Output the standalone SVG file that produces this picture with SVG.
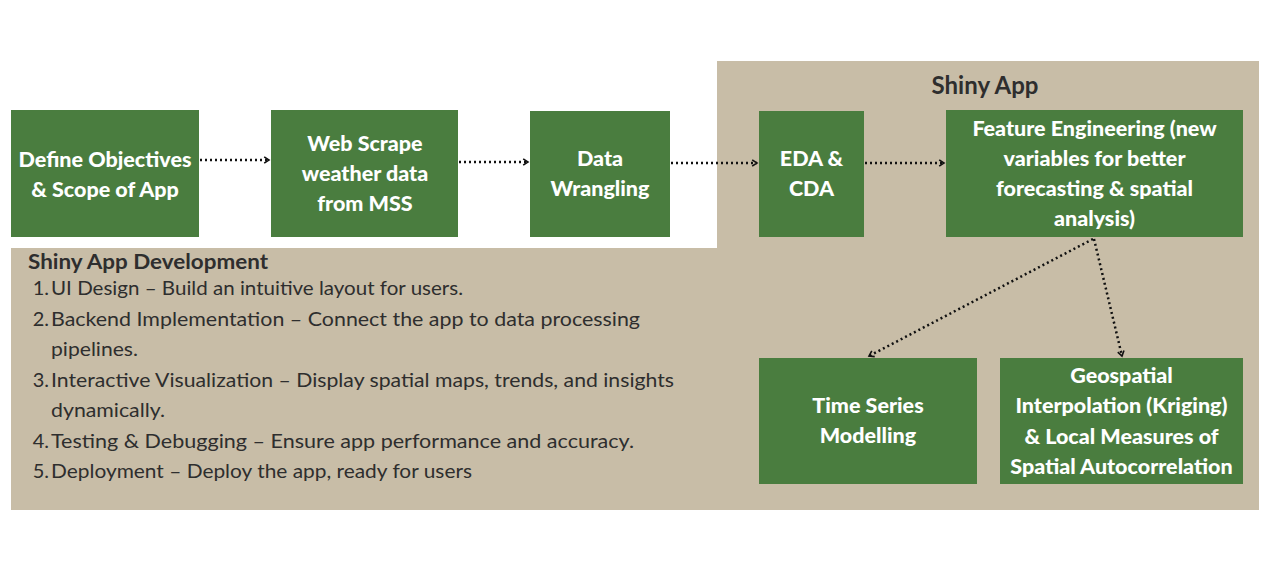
<svg xmlns="http://www.w3.org/2000/svg" width="1280" height="566" viewBox="0 0 1280 566">
<defs>
<style>
.bg{fill:#c8bda7}
.box{fill:#4a7d3f}
.bt{font-family:Lato,"Open Sans",sans-serif;font-weight:900;font-size:21.5px;fill:#ffffff;text-anchor:middle}
.hd{font-family:Lato,"Open Sans",sans-serif;font-weight:700;fill:#2e2e2e}
.li{font-family:Lato,"Open Sans",sans-serif;font-size:20px;fill:#2e2e2e}
.con{fill:none;stroke:#111;stroke-width:2.5;stroke-dasharray:2 3}
</style>
<marker id="arr" viewBox="0 0 10 10" refX="8" refY="5" markerWidth="8" markerHeight="8" markerUnits="userSpaceOnUse" orient="auto">
<path d="M2,1 L8,5 L2,9" fill="none" stroke="#111" stroke-width="2"/>
</marker>
</defs>
<rect width="1280" height="566" fill="#ffffff"/>
<g id="background">
<path class="bg" d="M717,61 H1259 V510 H11 V248 H717 Z"/>
</g>
<g id="shiny-app-label"><text class="hd" x="985" y="94" font-size="24" font-weight="900" text-anchor="middle">Shiny App</text></g>
<g id="connectors">
<path class="con" d="M200,160 H269" marker-end="url(#arr)"/>
<path class="con" d="M459,162 H528" marker-end="url(#arr)"/>
<path class="con" d="M671,163 H757" marker-end="url(#arr)"/>
<path class="con" d="M865,163 H944" marker-end="url(#arr)"/>
<path class="con" d="M1093,239 L869,356" marker-end="url(#arr)"/>
<path class="con" d="M1094,239 L1122,356" marker-end="url(#arr)"/>
</g>
<g id="n1"><rect class="box" x="11" y="110" width="188" height="127"/>
<text class="bt" x="105" y="167">Define Objectives</text><text class="bt" x="105" y="197">&amp; Scope of App</text></g>
<g id="n2"><rect class="box" x="271" y="110" width="187" height="127"/>
<text class="bt" x="365" y="151">Web Scrape</text><text class="bt" x="365" y="181">weather data</text><text class="bt" x="365" y="211">from MSS</text></g>
<g id="n3"><rect class="box" x="530" y="111" width="140" height="126"/>
<text class="bt" x="600" y="166">Data</text><text class="bt" x="600" y="196">Wrangling</text></g>
<g id="n4"><rect class="box" x="759" y="111" width="105" height="126"/>
<text class="bt" x="811.5" y="166">EDA &amp;</text><text class="bt" x="811.5" y="196">CDA</text></g>
<g id="n5"><rect class="box" x="946" y="110" width="297" height="127"/>
<text class="bt" x="1094.5" y="136">Feature Engineering (new</text><text class="bt" x="1094.5" y="166">variables for better</text><text class="bt" x="1094.5" y="196">forecasting &amp; spatial</text><text class="bt" x="1094.5" y="226">analysis)</text></g>
<g id="n6"><rect class="box" x="759" y="358" width="218" height="126"/>
<text class="bt" x="868" y="413">Time Series</text><text class="bt" x="868" y="443">Modelling</text></g>
<g id="n7"><rect class="box" x="1000" y="358" width="243" height="126"/>
<text class="bt" x="1121.5" y="383">Geospatial</text><text class="bt" x="1121.5" y="413">Interpolation (Kriging)</text><text class="bt" x="1121.5" y="444">&amp; Local Measures of</text><text class="bt" x="1121.5" y="474">Spatial Autocorrelation</text></g>
<g id="dev-list">
<text class="hd" x="28" y="269" font-size="20" textLength="240" lengthAdjust="spacingAndGlyphs">Shiny App Development</text>
<text class="li" x="49" y="295" text-anchor="end">1.</text>
<text class="li" x="51" y="295" textLength="412" lengthAdjust="spacingAndGlyphs">UI Design – Build an intuitive layout for users.</text>
<text class="li" x="49" y="326" text-anchor="end">2.</text>
<text class="li" x="51" y="326" textLength="589" lengthAdjust="spacingAndGlyphs">Backend Implementation – Connect the app to data processing</text>
<text class="li" x="51" y="356" textLength="87" lengthAdjust="spacingAndGlyphs">pipelines.</text>
<text class="li" x="49" y="387" text-anchor="end">3.</text>
<text class="li" x="51" y="387" textLength="623" lengthAdjust="spacingAndGlyphs">Interactive Visualization – Display spatial maps, trends, and insights</text>
<text class="li" x="51" y="417" textLength="114" lengthAdjust="spacingAndGlyphs">dynamically.</text>
<text class="li" x="49" y="448" text-anchor="end">4.</text>
<text class="li" x="51" y="448" textLength="583" lengthAdjust="spacingAndGlyphs">Testing &amp; Debugging – Ensure app performance and accuracy.</text>
<text class="li" x="49" y="478" text-anchor="end">5.</text>
<text class="li" x="51" y="478" textLength="421" lengthAdjust="spacingAndGlyphs">Deployment – Deploy the app, ready for users</text>
</g>
</svg>
